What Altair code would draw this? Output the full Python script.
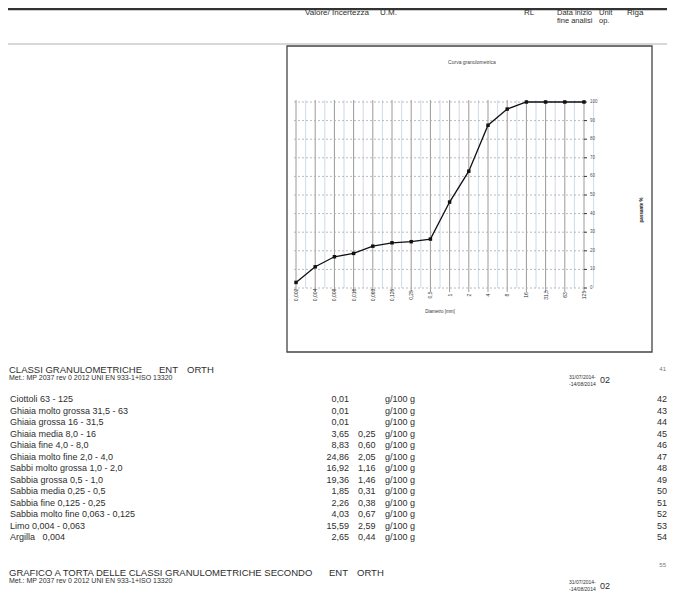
import altair as alt
import pandas as pd

FONT = "Liberation Sans"

# ---- curve data ----
diametri = ["0,002", "0,004", "0,008", "0,016", "0,063", "0,125", "0,25", "0,5",
            "1", "2", "4", "8", "16", "31,5", "63", "125"]
passante = [3.0, 11.4, 16.8, 18.6, 22.5, 24.3, 24.9, 26.3,
            46.2, 62.8, 87.5, 96.2, 100, 100, 100, 100]
y_ticks = [0, 10, 20, 30, 40, 50, 60, 70, 80, 90, 100]

# ---- table data ----
classi = ["Ciottoli 63 - 125", "Ghiaia molto grossa 31,5 - 63", "Ghiaia grossa 16 - 31,5",
          "Ghiaia media 8,0 - 16", "Ghiaia fine 4,0 - 8,0", "Ghiaia molto fine 2,0 - 4,0",
          "Sabbi molto grossa 1,0 - 2,0", "Sabbia grossa 0,5 - 1,0", "Sabbia media 0,25 - 0,5",
          "Sabbia fine 0,125 - 0,25", "Sabbia molto fine 0,063 - 0,125", "Limo 0,004 - 0,063",
          "Argilla\u00a0\u00a0\u00a00,004"]
valori = ["0,01", "0,01", "0,01", "3,65", "8,83", "24,86", "16,92", "19,36", "1,85",
          "2,26", "4,03", "15,59", "2,65"]
incertezze = ["", "", "", "0,25", "0,60", "2,05", "1,16", "1,46", "0,31", "0,38",
              "0,67", "2,59", "0,44"]
unita = ["g/100 g", "g/100 g", "g/100 g", "g/100 g", "g/100 g", "g/100 g", "g/100 g",
         "g/100 g", "g/100 g", "g/100 g", "g/100 g", "g/100 g", "g/100 g"]
righe = ["42", "43", "44", "45", "46", "47", "48", "49", "50", "51", "52", "53", "54"]

curve = pd.DataFrame({"diametro": diametri, "passante": passante})
grid = pd.DataFrame({"v": y_ticks})
table = pd.DataFrame({"classe": classi, "valore": valori, "incertezza": incertezze,
                      "um": unita, "riga": righe})
one = pd.DataFrame({"k": [0]})

O = 8  # page margin offset
INK = "#2e2e2e"


def T(s, x, y, size=9.0, align="left", color=INK, angle=0, weight="normal"):
    return alt.Chart(one).mark_text(
        text=s, align=align, baseline="middle", fontSize=size, font=FONT,
        color=color, angle=angle, fontWeight=weight
    ).encode(x=alt.value(x - O), y=alt.value(y - O))


def R(x1, y1, x2, y2, color="#555555", w=1.0):
    return alt.Chart(one).mark_rule(color=color, strokeWidth=w).encode(
        x=alt.value(x1 - O), x2=alt.value(x2 - O), y=alt.value(y1 - O), y2=alt.value(y2 - O))


X = alt.X("diametro:N", sort=diametri,
          scale=alt.Scale(type="point", domain=diametri, range=[296 - O, 584 - O], padding=0),
          axis=None)
ysc = alt.Scale(domain=[0, 100], range=[288 - O, 102 - O], nice=False, zero=False)
YC = alt.Y("passante:Q", scale=ysc, axis=None)
YG = alt.Y("v:Q", scale=ysc, axis=None)
YT = alt.Y("riga:N", sort=righe,
           scale=alt.Scale(type="point", domain=righe, range=[399 - O, 537 - O], padding=0),
           axis=None)

layers = []
# page lines
layers.append(R(0, 9, 675, 9, "#333333", 2.4))
layers.append(R(0, 44, 675, 44, "#b0b0b0", 1.2))
# header
layers += [
    T("Valore/ Incertezza", 305, 13, 8),
    T("U.M.", 380, 13, 8),
    T("RL", 524, 13, 8),
    T("Data inizio", 557, 13, 7.5),
    T("fine analisi", 557, 21, 7.5),
    T("Unit", 599, 13, 7.5),
    T("op.", 599, 21, 7.5),
    T("Riga", 627, 13, 8),
]
# chart frame
layers.append(alt.Chart(one).mark_rect(fill="white", stroke="#444444", strokeWidth=1.3).encode(
    x=alt.value(287 - O), x2=alt.value(652 - O), y=alt.value(46 - O), y2=alt.value(352 - O)))

# grid
layers.append(alt.Chart(curve).mark_rule(color="#c3cfe3", strokeWidth=0.8, xOffset=9.6).encode(
    x=X, y=alt.value(100 - O), y2=alt.value(288 - O)))
layers.append(alt.Chart(curve).mark_rule(color="#9a9a9a", strokeWidth=1).encode(
    x=X, y=alt.value(100 - O), y2=alt.value(292 - O)))
layers.append(alt.Chart(grid).mark_rule(color="#a8a8a8", strokeWidth=0.8, strokeDash=[2, 2]).encode(
    y=YG, x=alt.value(294 - O), x2=alt.value(584 - O)))
layers.append(alt.Chart(grid).mark_rule(color="#333333", strokeWidth=1).encode(
    y=YG, x=alt.value(584 - O), x2=alt.value(587 - O)))
layers.append(alt.Chart(grid).mark_text(align="left", baseline="middle", fontSize=4.5,
                                        font=FONT, color="#555555").encode(
    y=YG, x=alt.value(590 - O), text="v:Q"))
layers.append(alt.Chart(curve).mark_text(angle=270, align="center", baseline="middle",
                                         fontSize=5, font=FONT, color="#333333").encode(
    x=X, y=alt.value(295 - O), text="diametro:N"))
# curve
layers.append(alt.Chart(curve).mark_line(color="#111111", strokeWidth=1.3).encode(x=X, y=YC))
layers.append(alt.Chart(curve).mark_point(shape="square", filled=True, size=12, color="#111111",
                                          opacity=1).encode(x=X, y=YC))
# chart titles
layers += [
    T("Curva granulometrica", 472, 62, 5, "center", "#444444"),
    T("Diametro [mm]", 440, 312, 4.5, "center", "#333333"),
    T("passante %", 642, 210, 4.5, "center", "#222222", 270, "bold"),
]

# table section
layers += [
    T("CLASSI GRANULOMETRICHE", 9, 370, 9.5),
    T("ENT", 159, 370, 9.5),
    T("ORTH", 187, 370, 9.5),
    T("Met.:  MP 2037 rev 0 2012  UNI EN 933-1+ISO 13320", 9, 378, 7),
    T("41", 666, 369, 6, "right", "#777777"),
    T("31/07/2014-", 569, 377, 5),
    T("-14/08/2014", 569, 384, 5),
    T("02", 600, 380, 9),
]
layers.append(alt.Chart(table).mark_text(align="left", baseline="middle", fontSize=9,
                                         font=FONT, color=INK).encode(
    y=YT, x=alt.value(10 - O), text="classe:N"))
layers.append(alt.Chart(table).mark_text(align="right", baseline="middle", fontSize=9,
                                         font=FONT, color=INK).encode(
    y=YT, x=alt.value(349 - O), text="valore:N"))
layers.append(alt.Chart(table).mark_text(align="left", baseline="middle", fontSize=9,
                                         font=FONT, color=INK).encode(
    y=YT, x=alt.value(358 - O), text="incertezza:N"))
layers.append(alt.Chart(table).mark_text(align="left", baseline="middle", fontSize=9,
                                         font=FONT, color=INK).encode(
    y=YT, x=alt.value(385 - O), text="um:N"))
layers.append(alt.Chart(table).mark_text(align="right", baseline="middle", fontSize=9,
                                         font=FONT, color=INK).encode(
    y=YT, x=alt.value(667 - O), text="riga:N"))

layers += [
    T("GRAFICO A TORTA DELLE CLASSI GRANULOMETRICHE SECONDO", 9, 573, 9.5),
    T("ENT", 329, 573, 9.5),
    T("ORTH", 357, 573, 9.5),
    T("Met.:  MP 2037 rev 0 2012  UNI EN 933-1+ISO 13320", 9, 581, 7),
    T("55", 666, 565, 6, "right", "#777777"),
    T("31/07/2014-", 569, 582, 5),
    T("-14/08/2014", 569, 589, 5),
    T("02", 600, 586, 9),
]

chart = alt.layer(*layers).resolve_scale(x="independent", y="independent").properties(
    width=659, height=588, padding=0, autosize=alt.AutoSizeParams(type="none"),
    background="white"
).configure_view(stroke=None)

chart.save("out.html", embed_options={"renderer": "svg", "actions": False})
